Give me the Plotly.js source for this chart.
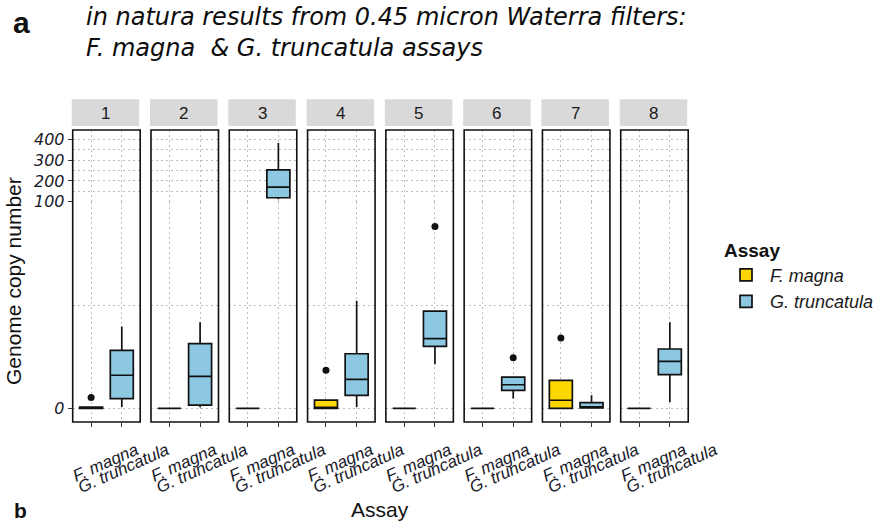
<!DOCTYPE html>
<html>
<head>
<meta charset="utf-8">
<script src="https://cdn.plot.ly/plotly-3.0.1.min.js"></script>
<style>html,body{margin:0;padding:0;background:#fff;}#chart{width:893px;height:524px;}</style>
</head>
<body>
<div id="chart"></div>
<script>
// ---------------- data ----------------
const facets = ['1', '2', '3', '4', '5', '6', '7', '8'];
const assays = ['F. magna', 'G. truncatula'];

const fmLower  = [0, 0, 0, 0, 0, 0, 0, 0];
const fmQ1     = [0, 0, 0, 0, 0, 0, 0, 0];
const fmMedian = [0, 0, 0, 0.4, 0, 0, 3.9, 0];
const fmQ3     = [0.6, 0, 0, 4, 0, 0, 13.5, 0];
const fmUpper  = [0.6, 0, 0, 4, 0, 0, 13.5, 0];
const fmOutliers = [[5.2], [], [], [18.4], [], [], [34], []];

const gtLower  = [0.6, 0.5, 112, 0.6, 21.3, 4.7, 0.2, 3];
const gtQ1     = [4.7, 1.5, 119, 6.3, 30, 8.7, 0.2, 16.3];
const gtMedian = [16, 15.5, 170, 14, 33.7, 11.4, 0.6, 22.7];
const gtQ3     = [28, 31.3, 253, 26.4, 47, 15.1, 2.7, 28.7];
const gtUpper  = [39.6, 41.7, 382, 52, 47, 15.1, 6.3, 41.7];
const gtOutliers = [[], [], [], [], [88], [24.5], [], []];

const yTicksLow = [0];
const yMinorLow = [50, 100];
const yTicksHigh = [100, 200, 300, 400];
const yMinorHigh = [150, 250, 350];
const breakValue = 100;

// ---------------- styling / geometry ----------------
const W = 893, H = 524;
const fx = p => p / W;
const fy = p => 1 - p / H;
const FONT = 'Liberation Sans, Arial, Helvetica, sans-serif';
const TFONT = 'DejaVu Sans, Liberation Sans, Arial, sans-serif';
const colors = {'F. magna': '#FFD700', 'G. truncatula': '#8DC8E3'};
const gridColor = '#bdbdbd';
const gridDash = '2px,3px';

const panelLeft0 = 72.7, panelPitch = 78.29, panelWidth = 67.5;
const panelBottom = 422, panelBreak = 201.7, panelTop = 130;
const zeroPx = 408.3, top400Px = 139.3;
const lowScale = (zeroPx - panelBreak) / breakValue;
const highScale = (panelBreak - top400Px) / (400 - breakValue);
const lowMin = -(panelBottom - zeroPx) / lowScale;
const highMax = breakValue + (panelBreak - panelTop) / highScale;
const stripTop = 99.3, stripBottom = 126;

const stats = {
  'F. magna': {lo: fmLower, q1: fmQ1, med: fmMedian, q3: fmQ3, hi: fmUpper, out: fmOutliers},
  'G. truncatula': {lo: gtLower, q1: gtQ1, med: gtMedian, q3: gtQ3, hi: gtUpper, out: gtOutliers}
};

const traces = [];
const layout = {
  width: W, height: H,
  margin: {l: 0, r: 0, t: 0, b: 0},
  paper_bgcolor: '#fff', plot_bgcolor: '#fff',
  showlegend: true,
  boxmode: 'overlay',
  font: {family: FONT, color: '#1a1a1a'},
  legend: {
    x: fx(722), y: fy(232), xanchor: 'left', yanchor: 'top',
    title: {text: '<b>Assay</b>', font: {size: 19, family: FONT, style: 'normal', color: '#111'}},
    font: {size: 18, family: FONT, style: 'italic', color: '#1a1a1a'},
    traceorder: 'normal', bgcolor: 'rgba(0,0,0,0)', tracegroupgap: 9, itemwidth: 38
  },
  shapes: [],
  annotations: []
};

const yTickFont = {family: TFONT, size: 16, style: 'italic', color: '#1a1a2a'};
const xTickFont = {family: FONT, size: 17, style: 'italic', color: '#1a1a2a'};

facets.forEach((f, i) => {
  const xn = i === 0 ? '' : String(i + 1);
  const ylN = i === 0 ? '' : String(i + 1);
  const yhN = String(i + 9);
  const left = panelLeft0 + i * panelPitch;
  const right = left + panelWidth;

  layout['xaxis' + xn] = {
    domain: [fx(left), fx(right)],
    anchor: 'y' + ylN,
    type: 'category',
    categoryorder: 'array', categoryarray: assays,
    range: [-0.6, 1.6],
    showgrid: true, gridcolor: gridColor, griddash: gridDash, gridwidth: 1,
    zeroline: false, showline: false,
    ticks: 'outside', ticklen: 4, tickcolor: '#333', tickwidth: 1,
    tickangle: -24, ticklabelshift: 45, ticklabelstandoff: 7,
    tickfont: xTickFont,
    fixedrange: true
  };
  layout['yaxis' + ylN] = {
    domain: [fy(panelBottom), fy(panelBreak)],
    anchor: 'x' + xn,
    range: [lowMin, breakValue],
    tickmode: 'array', tickvals: yTicksLow,
    showticklabels: i === 0,
    ticks: i === 0 ? 'outside' : '', ticklen: 4, tickcolor: '#333',
    tickfont: yTickFont,
    showgrid: true, gridcolor: gridColor, griddash: gridDash, gridwidth: 1,
    minor: {tickmode: 'array', tickvals: yMinorLow, showgrid: true, gridcolor: gridColor, griddash: gridDash, gridwidth: 1, ticks: ''},
    zeroline: false, showline: false, fixedrange: true
  };
  layout['yaxis' + yhN] = {
    domain: [fy(panelBreak), fy(panelTop)],
    anchor: 'x' + xn,
    range: [breakValue, highMax],
    tickmode: 'array', tickvals: yTicksHigh,
    showticklabels: i === 0,
    ticks: i === 0 ? 'outside' : '', ticklen: 4, tickcolor: '#333',
    tickfont: yTickFont,
    showgrid: true, gridcolor: gridColor, griddash: gridDash, gridwidth: 1,
    minor: {tickmode: 'array', tickvals: yMinorHigh, showgrid: true, gridcolor: gridColor, griddash: gridDash, gridwidth: 1, ticks: ''},
    zeroline: false, showline: false, fixedrange: true
  };

  // empty trace so that the upper part of each panel is drawn
  traces.push({
    type: 'scatter', mode: 'markers', x: [], y: [],
    xaxis: 'x' + xn, yaxis: 'y' + yhN, showlegend: false, hoverinfo: 'skip'
  });

  assays.forEach((a, k) => {
    const s = stats[a];
    const upper = s.q1[i] >= breakValue;
    traces.push({
      type: 'box',
      x: [a],
      q1: [s.q1[i]], median: [s.med[i]], q3: [s.q3[i]],
      lowerfence: [s.lo[i]], upperfence: [s.hi[i]],
      xaxis: 'x' + xn, yaxis: 'y' + (upper ? yhN : ylN),
      name: a, legendgroup: a, showlegend: i === 0,
      fillcolor: colors[a],
      line: {color: '#111', width: 1.7},
      width: 0.75, whiskerwidth: 0,
      boxpoints: false, hoverinfo: 'skip'
    });
    if (s.out[i].length) {
      traces.push({
        type: 'scatter', mode: 'markers',
        x: s.out[i].map(() => a), y: s.out[i],
        xaxis: 'x' + xn, yaxis: 'y' + ylN,
        marker: {color: '#111', size: 7},
        showlegend: false, hoverinfo: 'skip'
      });
    }
  });

  layout.shapes.push({
    type: 'rect', xref: 'paper', yref: 'paper',
    x0: fx(left - 1), x1: fx(right - 1), y0: fy(stripBottom), y1: fy(stripTop),
    fillcolor: '#d9d9d9', line: {width: 0}, layer: 'below'
  });
  layout.annotations.push({
    xref: 'paper', yref: 'paper', x: fx((left + right) / 2 - 1), y: fy((stripTop + stripBottom) / 2 + 1),
    text: f, showarrow: false, xanchor: 'center', yanchor: 'middle',
    font: {family: FONT, size: 17, color: '#1a1a1a'}
  });
  layout.shapes.push({
    type: 'rect', xref: 'paper', yref: 'paper',
    x0: fx(left), x1: fx(right), y0: fy(panelBottom), y1: fy(panelTop),
    line: {color: '#111', width: 1.6}, fillcolor: 'rgba(0,0,0,0)', layer: 'above'
  });
});

layout.annotations.push(
  {xref: 'paper', yref: 'paper', x: fx(11), y: fy(22), xanchor: 'left', yanchor: 'middle',
   text: '<b>a</b>', showarrow: false, font: {family: FONT, size: 30, color: '#111'}},
  {xref: 'paper', yref: 'paper', x: fx(84), y: fy(33), xanchor: 'left', yanchor: 'middle', align: 'left',
   text: '<i>in natura results from 0.45 micron Waterra filters:<br>F. magna&nbsp;&nbsp;&amp; G. truncatula assays</i>',
   showarrow: false, font: {family: TFONT, size: 24, color: '#0d0d0d'}},
  {xref: 'paper', yref: 'paper', x: fx(13), y: fy(281), xanchor: 'center', yanchor: 'middle',
   text: 'Genome copy number', textangle: -90, showarrow: false,
   font: {family: FONT, size: 21, color: '#111'}},
  {xref: 'paper', yref: 'paper', x: fx(380), y: fy(509), xanchor: 'center', yanchor: 'middle',
   text: 'Assay', showarrow: false, font: {family: FONT, size: 21, color: '#111'}},
  {xref: 'paper', yref: 'paper', x: fx(12), y: 0, xanchor: 'left', yanchor: 'bottom',
   text: '<b>b</b>', showarrow: false, font: {family: FONT, size: 21, color: '#111'}}
);

Plotly.newPlot('chart', traces, layout, {staticPlot: true, displayModeBar: false});
</script>
</body>
</html>
